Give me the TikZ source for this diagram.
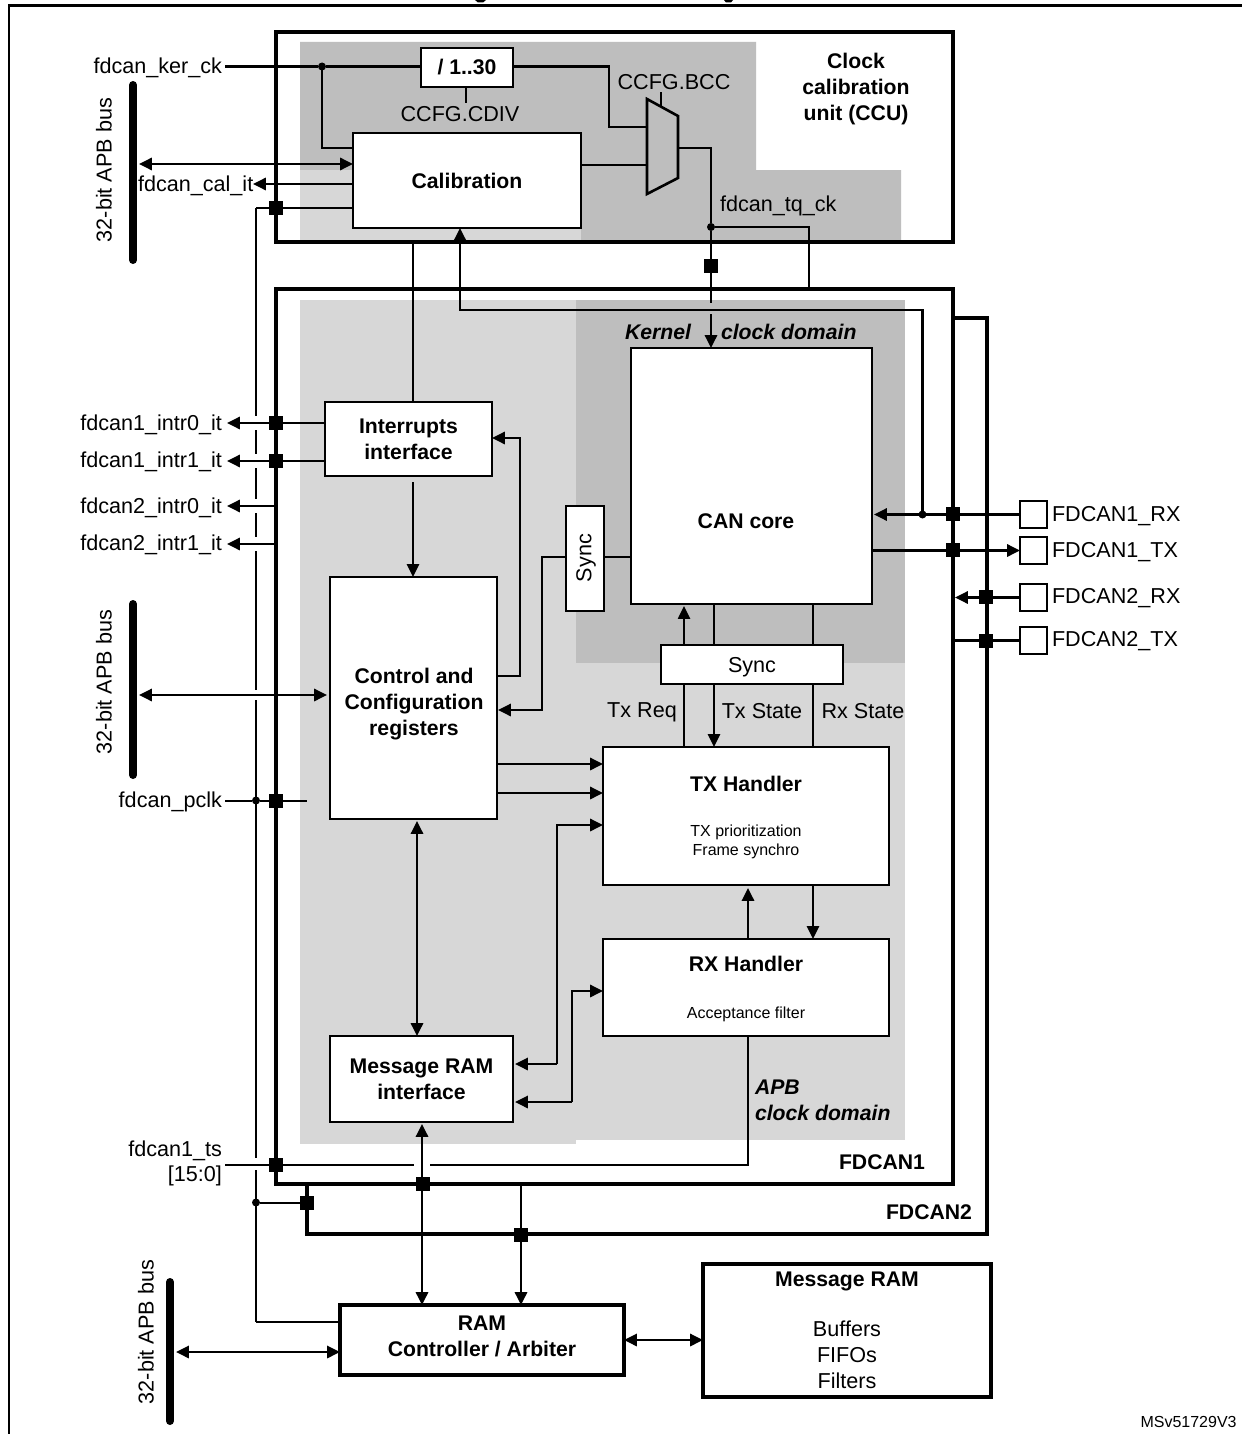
\documentclass[tikz,border=0pt]{standalone}
\usepackage{fontspec}
\setmainfont{Liberation Sans}
\usetikzlibrary{arrows.meta}
\definecolor{lightdom}{HTML}{D7D7D7}
\definecolor{darkdom}{HTML}{BEBEBE}
\newcommand{\pxbox}[7]{\node[#6,minimum width={(#4-#3)*0.5pt},minimum height={(#5-#2)*0.5pt}] (#1) at ({(#3+#4)/2},{(#2+#5)/2}) {#7};}
\tikzset{
  thinbox/.style={draw=black,fill=white,line width=1.05pt,inner sep=0pt,outer sep=0pt,align=center,font=\bfsf},
  thickbox/.style={draw=black,fill=white,line width=2.1pt,inner sep=0pt,outer sep=0pt,align=center,font=\bfsf},
  pinbox/.style={thinbox},
  frameline/.style={line width=2.1pt,line join=miter},
  wire/.style={line width=1.4pt},
  thinwire/.style={line width=1pt},
  arr/.style={wire,-{Triangle[length=6.4pt,width=6pt]}},
  tarr/.style={thinwire,-{Triangle[length=6.4pt,width=6pt]}},
  darr/.style={wire,{Triangle[length=6.4pt,width=6pt]}-{Triangle[length=6.4pt,width=6pt]}},
  sq/.style={fill=black,inner sep=0pt,outer sep=0pt,minimum size=7.4pt},
  jdot/.style={circle,fill=black,inner sep=0pt,outer sep=0pt,minimum size=4pt},
  txt/.style={inner sep=0pt,outer sep=0pt,font=\rmsf,align=center},
  txtr/.style={txt,anchor=east,align=right},
  txtl/.style={txt,anchor=west,align=left},
  bold/.style={txt,font=\bfsf},
  boldit/.style={inner sep=0pt,outer sep=0pt,anchor=west,font=\bisf},
  small/.style={txt,font=\smsf},
  busbar/.style={line width=4pt,line cap=round},
}
\newcommand{\rmsf}{\fontsize{10.8}{13}\selectfont}
\newcommand{\bfsf}{\fontsize{10.6}{13}\selectfont\bfseries}
\newcommand{\bisf}{\fontsize{10.6}{13}\selectfont\bfseries\itshape}
\newcommand{\smsf}{\fontsize{8}{9.6}\selectfont}
\begin{document}
\begin{tikzpicture}[x=0.5pt,y=-0.5pt]
\useasboundingbox (0,0) rectangle (1242,1434);
\fill[white] (0,0) rectangle (1242,1434);
% page frame
\draw[line width=1.4pt] (9,1434) -- (9,5.5) -- (1242,5.5);
\fill (475,0) -- (486,0) -- (483,2.5) -- (478,2.5) -- cycle;
\fill (724,0) -- (733,0) -- (731,2.5) -- (726,2.5) -- cycle;
% clock domains
\fill[darkdom] (300,42) -- (756,42) -- (756,170) -- (901,170) -- (901,241) -- (581,241) -- (581,170) -- (300,170) -- cycle;
\fill[lightdom] (300,170) rectangle (581,241);
\fill[lightdom] (300,300) rectangle (576,1144);
\fill[lightdom] (576,300) rectangle (905,1140);
\fill[darkdom] (576,300) rectangle (905,663);
% frames
\draw[frameline] (276,32) rectangle (953,242);
\draw[frameline] (276,289) rectangle (953,1184);
\coordinate (f2a) at (953,318);
\coordinate (f2b) at (987,318);
\coordinate (f2c) at (987,1234);
\coordinate (f2d) at (307,1234);
\coordinate (f2e) at (307,1184);
\draw[frameline] (f2a) -- (f2b) -- (f2c) -- (f2d) -- (f2e);
% boxes
\pxbox{div}{48}{421}{513}{87}{thinbox}{/ 1..30}
\pxbox{cal}{133}{353}{581}{228}{thinbox}{Calibration}
\pxbox{intr}{402}{325}{492}{476}{thinbox}{Interrupts\\interface}
\pxbox{ctrl}{577}{330}{497}{819}{thinbox}{}
\pxbox{ramif}{1036}{330}{513}{1122}{thinbox}{Message RAM\\interface}
\pxbox{core}{348}{631}{872}{604}{thinbox}{}
\pxbox{vsync}{506}{566}{604}{611}{thinbox}{}
\pxbox{hsync}{645}{661}{843}{684}{thinbox}{}
\pxbox{tx}{747}{603}{889}{885}{thinbox}{}
\pxbox{rx}{939}{603}{889}{1036}{thinbox}{}
\pxbox{ramc}{1305}{340}{624}{1375}{thickbox}{}
\pxbox{msg}{1264}{703}{991}{1397}{thickbox}{}
\pxbox{pin1}{501}{1020}{1047}{528}{pinbox}{}
\pxbox{pin2}{537}{1020}{1047}{564}{pinbox}{}
\pxbox{pin3}{584}{1020}{1047}{611}{pinbox}{}
\pxbox{pin4}{627}{1020}{1047}{654}{pinbox}{}
% multiplexer
\coordinate (m1) at (647,99);
\coordinate (m2) at (678,116);
\coordinate (m3) at (678,178);
\coordinate (m4) at (647,194);
\coordinate (muxin1) at (647,127);
\coordinate (muxin2) at (647,165);
\coordinate (muxout) at (678,148);
\coordinate (muxsel) at (661,107);
\draw[line width=1.3pt,fill=darkdom] (m1) -- (m2) -- (m3) -- (m4) -- cycle;
% text labels
\node[txtr] (kerck) at (222,68) {fdcan\_ker\_ck};
\node[txt] (cdiv) at (460,114) {CCFG.CDIV};
\node[txt] (bcc) at (674,82) {CCFG.BCC};
\node[bold] (ccu) at (856,89) {Clock\\calibration\\unit (CCU)};
\node[txtl] (calit) at (138,186) {fdcan\_cal\_it};
\node[txtl] (tqck) at (720,206) {fdcan\_tq\_ck};
\node[txt,rotate=90] (apb1) at (104,170) {32-bit APB bus};
\node[txt,rotate=90] (apb2) at (104,682) {32-bit APB bus};
\node[txt,rotate=90] (apb3) at (146,1332) {32-bit APB bus};
\node[txtr] (i10) at (222,425) {fdcan1\_intr0\_it};
\node[txtr] (i11) at (222,462) {fdcan1\_intr1\_it};
\node[txtr] (i20) at (222,508) {fdcan2\_intr0\_it};
\node[txtr] (i21) at (222,545) {fdcan2\_intr1\_it};
\node[txtr] (pclk) at (222,802) {fdcan\_pclk};
\node[txtr] (ts1) at (222,1151) {fdcan1\_ts};
\node[txtr] (ts2) at (222,1176) {[15:0]};
\node[boldit] (kern) at (625,332) {Kernel};
\node[boldit] (kdom) at (721,332) {clock domain};
\node[boldit] (apbdom) at (755,1087) {APB};
\node[boldit] (apbdom2) at (755,1113) {clock domain};
\node[bold] (fd1) at (882,1162) {FDCAN1};
\node[bold] (fd2) at (929,1212) {FDCAN2};
\node[bold] (ctrlt) at (414,704) {Control and\\Configuration\\registers};
\node[bold] (coret) at (746,521) {CAN core};
\node[txt,rotate=90] (vsynct) at (586,558) {Sync};
\node[txt] (hsynct) at (752,667) {Sync};
\node[txt] (txreq) at (642,712) {Tx Req};
\node[txt] (txst) at (762,711) {Tx State};
\node[txt] (rxst) at (863,711) {Rx State};
\node[bold] (txt1) at (746,784) {TX Handler};
\node[small] (txt2) at (746,842) {TX prioritization\\Frame synchro};
\node[bold] (rxt1) at (746,964) {RX Handler};
\node[small] (rxt2) at (746,1014) {Acceptance filter};
\node[bold] (rct) at (482,1336) {RAM\\Controller / Arbiter};
\node[bold] (msgt) at (847,1281) {Message RAM};
\node[txt] (msgl) at (847,1355) {Buffers\\FIFOs\\Filters};
\node[txtl] (p1t) at (1052,516) {FDCAN1\_RX};
\node[txtl] (p2t) at (1052,552) {FDCAN1\_TX};
\node[txtl] (p3t) at (1052,598) {FDCAN2\_RX};
\node[txtl] (p4t) at (1052,641) {FDCAN2\_TX};
\node[inner sep=0pt,anchor=east,font=\smsf] (ver) at (1237,1422) {MSv51729V3};
% APB bars
\coordinate (b1a) at (133,85); \coordinate (b1b) at (133,260);
\coordinate (b2a) at (133,604); \coordinate (b2b) at (133,775);
\coordinate (b3a) at (170,1282); \coordinate (b3b) at (170,1421);
\draw[busbar] (b1a) -- (b1b);
\draw[busbar] (b2a) -- (b2b);
\draw[busbar] (b3a) -- (b3b);
% junction points
\node[jdot] (jker) at (322,66.5) {};
\node[jdot] (jtq) at (711,227) {};
\node[jdot] (jrx) at (922.5,514.5) {};
\node[jdot] (jpclk) at (256,800.5) {};
\node[jdot] (jpclk2) at (256,1202.5) {};
% calibration unit wiring
\coordinate (k0) at (225,66.5);
\draw[wire] (k0) -- (jker) -- (div.west |- jker);
\draw[wire] (jker) -- (jker |- 0,148) -- (cal.west |- 0,148);
\coordinate (w1) at (609,66.5); \coordinate (w2) at (609,127);
\draw[wire] (div.east |- w1) -- (w1) -- (w2) -- (muxin1);
\draw[thinwire] (div.south -| 466,0) -- (466,103);
\draw[thinwire] (muxsel) -- (muxsel |- 0,92);
\draw[wire] (cal.east |- muxin2) -- (muxin2);
\coordinate (w3) at (711,148);
\draw[wire] (muxout) -- (w3) -- (jtq);
\coordinate (w4) at (711,303);
\draw[wire] (jtq) -- (w4);
\coordinate (w5) at (711,314);
\draw[arr] (w5) -- (core.north -| w5);
\coordinate (w6) at (809,227); \coordinate (w7) at (809,289);
\draw[wire] (jtq) -- (w6) -- (w7);
\coordinate (w8) at (460,310); \coordinate (w9) at (922.5,310);
\draw[arr] (jrx) -- (w9) -- (w8) -- (w8 |- cal.south);
\draw[darr] (139,164) coordinate (a1) -- (cal.west |- a1);
\draw[arr] (cal.west |- 0,184) -- (253,184);
\coordinate (ck) at (256,208);
\draw[thinwire] (cal.west |- ck) -- (ck);
% APB clock line with its gaps
\foreach \ya/\yb in {208/416,430/454,468/499,513/537,551/690,700/1158,1170/1321.5}
  \draw[thinwire] (256,\ya) -- (256,\yb);
\coordinate (ck2) at (256,1321.5);
\draw[thinwire] (ck2) -- (ramc.west |- ck2);
\draw[thinwire] (jpclk2) -- (307,1202.5);
\draw[thinwire] (225,800.5) coordinate (pc0) -- (jpclk) -- (307,800.5);
\draw[thinwire] (413,242) coordinate (ic) -- (ic |- intr.north);
% interrupts
\draw[arr] (intr.west |- 0,423) -- (227,423);
\draw[arr] (intr.west |- 0,461) -- (227,461);
\draw[arr] (276,506) coordinate (ii0) -- (227,506);
\draw[arr] (276,544) coordinate (ii1) -- (227,544);
\draw[tarr] (413,482) coordinate (ic2) -- (ic2 |- ctrl.north);
\coordinate (w10) at (520,676); \coordinate (w11) at (520,438);
\draw[arr] (ctrl.east |- w10) -- (w10) -- (w11) -- (intr.east |- w11);
% sync
\coordinate (w12) at (542,557); \coordinate (w13) at (542,710);
\draw[arr] (vsync.west |- w12) -- (w12) -- (w13) -- ([xshift=0.5pt]ctrl.east |- w13);
\draw[wire] (vsync.east |- w12) -- (core.west |- w12);
\draw[darr] (139,695) coordinate (a2) -- (327,695);
% to the handlers
\draw[arr] (ctrl.east |- 0,764) -- (tx.west |- 0,764);
\draw[arr] (ctrl.east |- 0,793) -- (tx.west |- 0,793);
\draw[darr] (417,821) coordinate (c1) -- (c1 |- ramif.north);
\coordinate (w14) at (557,1064); \coordinate (w15) at (557,825);
\draw[arr] (w14) -- (w15) -- (tx.west |- w15);
\draw[arr] (w14) -- (515,1064);
\coordinate (w16) at (572,1102); \coordinate (w17) at (572,991);
\draw[arr] (w16) -- (w17) -- (rx.west |- w17);
\draw[arr] (w16) -- (515,1102);
\draw[arr] (rx.north -| 748,0) -- (748,888);
\draw[tarr] (tx.south -| 813,0) -- (rx.north -| 813,0);
% core and sync
\draw[tarr] (hsync.north -| 684,0) -- (684,606);
\draw[thinwire] (core.south -| 714,0) -- (hsync.north -| 714,0);
\draw[thinwire] (core.south -| 813,0) -- (hsync.north -| 813,0);
\draw[thinwire] (hsync.south -| 684,0) -- (tx.north -| 684,0);
\draw[tarr] (hsync.south -| 714,0) -- (tx.north -| 714,0);
\draw[thinwire] (hsync.south -| 813,0) -- (tx.north -| 813,0);
% time stamp
\coordinate (w18) at (748,1165);
\draw[thinwire] (225,1165) coordinate (t0) -- (414,1165);
\draw[thinwire] (430,1165) coordinate (t1) -- (w18) -- (w18 |- rx.south);
% RAM links
\draw[darr] (422,1124) coordinate (r1) -- (r1 |- ramc.north);
\draw[arr] (521,1184) coordinate (r2) -- (r2 |- ramc.north);
\draw[darr] (176,1352) coordinate (a3) -- (ramc.west |- a3);
\draw[darr] (ramc.east |- 0,1340) -- (msg.west |- 0,1340);
% pins
\draw[arr] (pin1.west) -- (pin1.west -| 874,0);
\draw[arr] (pin2.west -| 872,0) -- (pin2.west);
\draw[arr] (pin3.west) -- (pin3.west -| 955,0);
\draw[wire] (pin4.west) -- (pin4.west -| 955,0);
% crossing squares
\node[sq] (s1) at (276,208) {};
\node[sq] (s2) at (711,266) {};
\node[sq] (s3) at (276,423) {};
\node[sq] (s4) at (276,461) {};
\node[sq] (s5) at (276,801) {};
\node[sq] (s6) at (276,1165) {};
\node[sq] (s7) at (423,1184) {};
\node[sq] (s8) at (307,1203) {};
\node[sq] (s9) at (521,1235) {};
\node[sq] (s10) at (953,514) {};
\node[sq] (s11) at (953,550) {};
\node[sq] (s12) at (986,597) {};
\node[sq] (s13) at (986,641) {};
\end{tikzpicture}
\end{document}
